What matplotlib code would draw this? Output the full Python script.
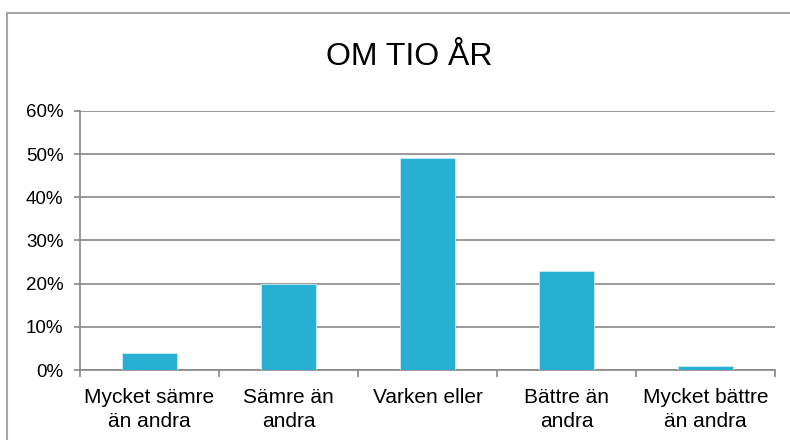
import matplotlib.pyplot as plt
from matplotlib.patches import Rectangle
import numpy as np

# Survey answers, share of respondents
categories = ["Mycket sämre\nän andra", "Sämre än\nandra", "Varken eller",
              "Bättre än\nandra", "Mycket bättre\nän andra"]
values = [0.04, 0.20, 0.49, 0.23, 0.01]
yticks = [0, 0.1, 0.2, 0.3, 0.4, 0.5, 0.6]
ytick_labels = ["0%", "10%", "20%", "30%", "40%", "50%", "60%"]

plt.rcParams['font.family'] = ['Liberation Sans', 'DejaVu Sans']

fig = plt.figure(figsize=(7.9, 4.4), dpi=100)
ax = fig.add_axes([0.1013, 0.159, 0.8797, 0.589])

grid_col = "#878787"
bar_col = "#27B0D4"

x = np.arange(len(categories))
ax.bar(x, values, width=0.4, color=bar_col, edgecolor="#c8ecf5", linewidth=0.6, zorder=3)

ax.set_xlim(-0.5, len(categories) - 0.5)
ax.set_ylim(0, 0.6)
ax.set_yticks(yticks)
ax.set_yticklabels(ytick_labels, fontsize=13.5)
ax.yaxis.grid(True, color=grid_col, linewidth=1.2, zorder=0)

ax.set_xticks(x)
ax.set_xticklabels(categories, fontsize=15, linespacing=1.3)
ax.set_xticks(np.arange(len(categories) + 1) - 0.5, minor=True)
ax.tick_params(axis="x", which="major", length=0, pad=13)
ax.tick_params(axis="x", which="minor", length=5, width=1.2, color=grid_col)
ax.tick_params(axis="y", length=4, width=1.2, color=grid_col, pad=8)

for s in ["top", "right"]:
    ax.spines[s].set_visible(False)
for s in ["left", "bottom"]:
    ax.spines[s].set_color(grid_col)
    ax.spines[s].set_linewidth(1.2)

fig.text(0.518, 0.870, "OM TIO ÅR", ha="center", va="center", fontsize=23)

# outer chart frame (only top and left edges visible)
frame = Rectangle((0.009, -0.2), 1.2, 1.17, transform=fig.transFigure,
                  fill=False, edgecolor="#a6a6a6", linewidth=1.5, clip_on=False)
fig.patches.append(frame)

fig.savefig("out.png", dpi=100)
